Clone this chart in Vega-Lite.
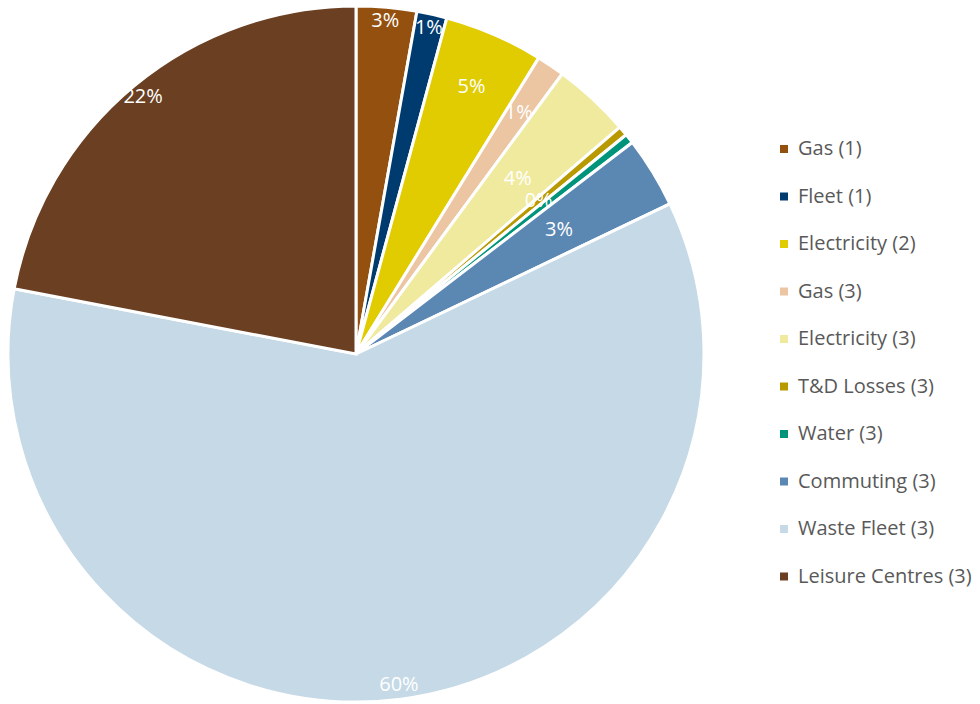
{
  "$schema": "https://vega.github.io/schema/vega-lite/v6.json",
  "width": 712,
  "height": 708,
  "padding": 0,
  "background": "white",
  "config": {"view": {"stroke": null}, "font": "Open Sans"},
  "data": {
    "values": [
      {"category": "Gas (1)", "share": 0.028, "order": 1},
      {"category": "Fleet (1)", "share": 0.014, "order": 2},
      {"category": "Electricity (2)", "share": 0.046, "order": 3},
      {"category": "Gas (3)", "share": 0.013, "order": 4},
      {"category": "Electricity (3)", "share": 0.036, "order": 5},
      {"category": "T&D Losses (3)", "share": 0.0045, "order": 6},
      {"category": "Water (3)", "share": 0.0045, "order": 7},
      {"category": "Commuting (3)", "share": 0.033, "order": 8},
      {"category": "Waste Fleet (3)", "share": 0.601, "order": 9},
      {"category": "Leisure Centres (3)", "share": 0.22, "order": 10}
    ]
  },
  "encoding": {
    "theta": {"field": "share", "type": "quantitative", "stack": true},
    "order": {"field": "order", "type": "quantitative", "sort": "ascending"}
  },
  "layer": [
    {
      "mark": {"type": "arc", "radius": 348, "stroke": "white", "strokeWidth": 3},
      "encoding": {
        "color": {
          "field": "category",
          "type": "nominal",
          "sort": null,
          "scale": {
            "domain": ["Gas (1)", "Fleet (1)", "Electricity (2)", "Gas (3)", "Electricity (3)", "T&D Losses (3)", "Water (3)", "Commuting (3)", "Waste Fleet (3)", "Leisure Centres (3)"],
            "range": ["#94500F", "#003B70", "#E0CC00", "#ECC5A2", "#F0EA9E", "#B89A00", "#00957A", "#5B87B3", "#C5D9E6", "#6A3F22"]
          },
          "legend": {
            "title": null,
            "orient": "none",
            "legendX": 774,
            "legendY": 139,
            "symbolType": "square",
            "symbolSize": 64,
            "symbolStrokeWidth": 0,
            "labelFont": "Open Sans",
            "labelFontSize": 20,
            "labelColor": "#595959",
            "labelOffset": 4,
            "labelLimit": 400,
            "rowPadding": 27.5,
            "padding": 0
          }
        }
      }
    },
    {
      "mark": {"type": "text", "radius": 334, "color": "white", "fontSize": 20, "font": "Open Sans", "baseline": "middle"},
      "encoding": {
        "text": {"field": "share", "type": "quantitative", "format": ".0%"},
        "opacity": {"condition": {"test": "indexof(['Gas (1)','Fleet (1)','Waste Fleet (3)','Leisure Centres (3)'], datum.category) >= 0", "value": 1}, "value": 0}
      }
    },
    {
      "mark": {"type": "text", "radius": 291, "color": "white", "fontSize": 20, "font": "Open Sans", "baseline": "middle"},
      "encoding": {
        "text": {"field": "share", "type": "quantitative", "format": ".0%"},
        "opacity": {"condition": {"test": "indexof(['Electricity (2)','Gas (3)'], datum.category) >= 0", "value": 1}, "value": 0}
      }
    },
    {
      "mark": {"type": "text", "radius": 238, "color": "white", "fontSize": 20, "font": "Open Sans", "baseline": "middle"},
      "encoding": {
        "text": {"field": "share", "type": "quantitative", "format": ".0%"},
        "opacity": {"condition": {"test": "indexof(['Electricity (3)','T&D Losses (3)','Commuting (3)'], datum.category) >= 0", "value": 1}, "value": 0}
      }
    }
  ]
}
